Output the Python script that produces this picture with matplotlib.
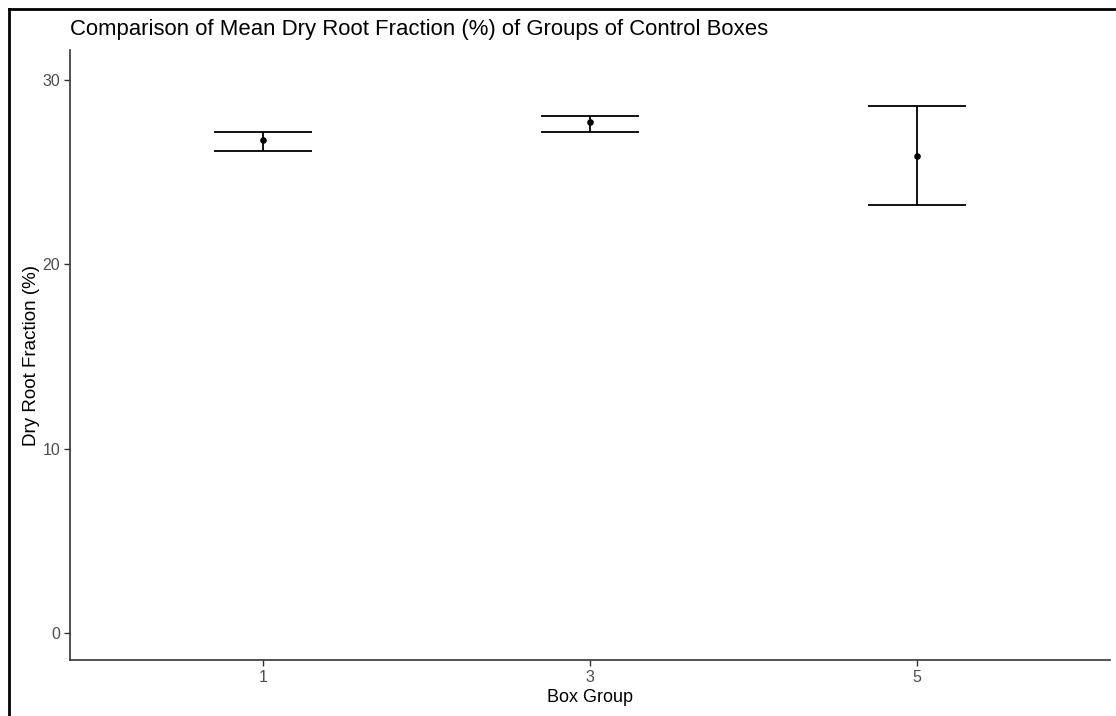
import matplotlib.pyplot as plt
from matplotlib.lines import Line2D

plt.rcParams['font.family'] = ['Liberation Sans', 'DejaVu Sans']

# Group summaries: mean dry root fraction with lower/upper error limits
groups = ["1", "3", "5"]
means = [26.75, 27.73, 25.90]
lower = [26.15, 27.18, 23.22]
upper = [27.20, 28.07, 28.59]

W, H, DPI = 1116, 716, 100
fig = plt.figure(figsize=(W / DPI, H / DPI), dpi=DPI)
fig.patch.set_facecolor('white')

# axes box in pixel coordinates
left, right, top, bottom = 70, 1110, 50, 660
ax = fig.add_axes([left / W, 1 - bottom / H, (right - left) / W, (bottom - top) / H])

x = list(range(1, len(groups) + 1))
cap_half = 0.15
for xi, m, lo, hi in zip(x, means, lower, upper):
    ax.plot([xi, xi], [lo, hi], color='black', lw=1.3, solid_capstyle='butt')
    ax.plot([xi - cap_half, xi + cap_half], [lo, lo], color='black', lw=1.3, solid_capstyle='butt')
    ax.plot([xi - cap_half, xi + cap_half], [hi, hi], color='black', lw=1.3, solid_capstyle='butt')
ax.scatter(x, means, s=14, color='black', zorder=3)

ax.set_xlim(0.41, 3.59)
ax.set_ylim(-1.47, 31.63)
ax.set_xticks(x)
ax.set_xticklabels(groups)
ax.set_yticks([0, 10, 20, 30])

for side in ['top', 'right']:
    ax.spines[side].set_visible(False)
for side in ['left', 'bottom']:
    ax.spines[side].set_color('#333333')
    ax.spines[side].set_linewidth(1.2)

ax.tick_params(axis='both', colors='#333333', length=4, width=1.0,
               labelsize=11.5, labelcolor='#4D4D4D', pad=3)

ax.set_xlabel("Box Group", fontsize=13, color='black', labelpad=3)
ax.set_ylabel("Dry Root Fraction (%)", fontsize=13.5, color='black', labelpad=2)
ax.set_title("Comparison of Mean Dry Root Fraction (%) of Groups of Control Boxes",
             fontsize=15.9, loc='left', color='black', pad=11)

# outer frame along the left and top edges
fig.add_artist(Line2D([9 / W, 9 / W], [0, 1 - 9 / H], color='black', lw=2.0,
                      transform=fig.transFigure))
fig.add_artist(Line2D([9 / W, 1], [1 - 9 / H, 1 - 9 / H], color='black', lw=2.0,
                      transform=fig.transFigure))

fig.savefig("out.png", dpi=DPI)
